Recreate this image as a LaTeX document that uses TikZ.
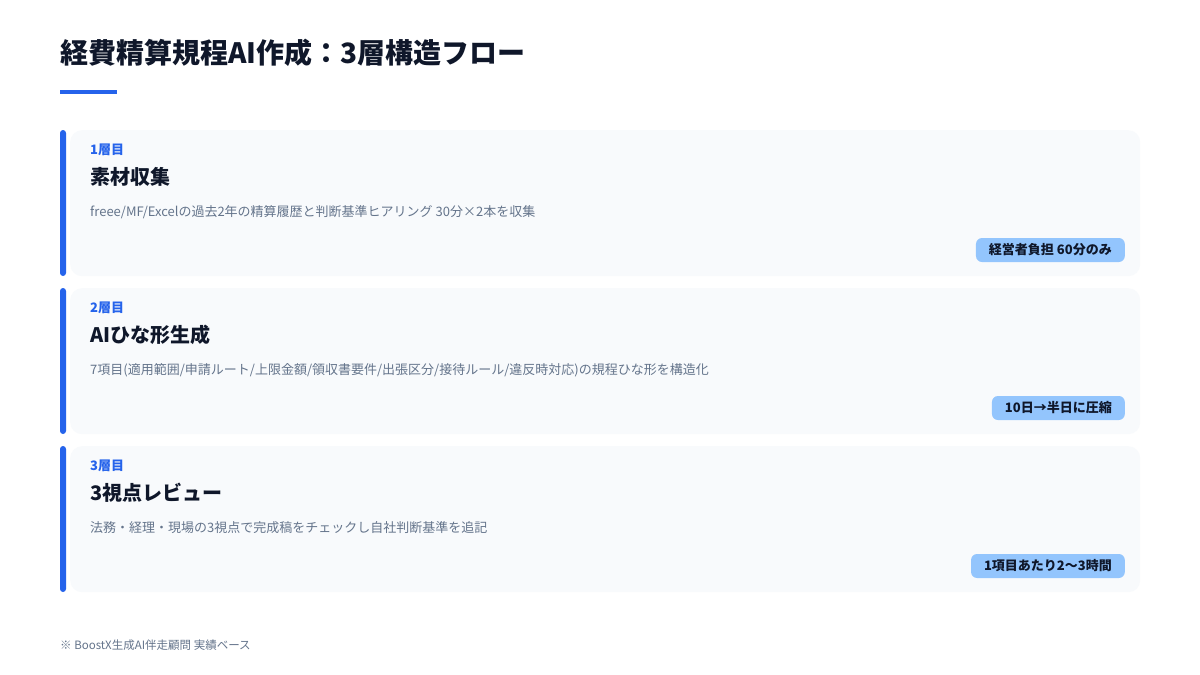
\documentclass[tikz,border=0pt]{standalone}
\usepackage{fontspec}
\setmainfont{Noto Sans CJK JP}
\usetikzlibrary{positioning}
\definecolor{ink}{HTML}{0F172A}
\definecolor{muted}{HTML}{64748B}
\definecolor{accent}{HTML}{2563EB}
\definecolor{cardbg}{HTML}{F8FAFC}
\definecolor{badgebg}{HTML}{93C5FD}

\begin{document}
\begin{tikzpicture}[x=1pt,y=-1pt,
  card/.style={fill=cardbg, rounded corners=12pt, minimum width=1070pt, minimum height=146pt, anchor=north west, inner sep=0pt},
  bar/.style={fill=accent, rounded corners=3pt},
  layer/.style={anchor=west, inner sep=0pt, text=accent, font=\fontsize{13}{15}\selectfont\bfseries},
  head/.style={anchor=west, inner sep=0pt, text=ink, font=\fontsize{20}{24}\selectfont\bfseries},
  desc/.style={anchor=west, inner sep=0pt, text=muted, font=\fontsize{13}{15}\selectfont},
  badge/.style={anchor=east, fill=badgebg, rounded corners=6pt, text=ink, inner xsep=13pt, minimum height=24pt, font=\fontsize{13}{15}\selectfont\bfseries}]

\useasboundingbox[fill=white] (0,0) rectangle (1200,675);

\node[anchor=west, inner sep=0pt, text=ink, font=\fontsize{28}{32}\selectfont\bfseries] (title) at (60,53) {経費精算規程AI作成：3層構造フロー};
\fill[accent] (60,90) rectangle (117,94);

\node[card] (card1) at (70,130) {};
\fill[bar] (60,130) rectangle (66,276);
\node[layer] (layer1) at (90,150) {1層目};
\node[head] (head1) at (90,177) {素材収集};
\node[desc] (desc1) at (90,212) {freee/MF/Excelの過去2年の精算履歴と判断基準ヒアリング 30分×2本を収集};
\node[badge] (badge1) at (1125,250) {経営者負担 60分のみ};

\node[card] (card2) at (70,288) {};
\fill[bar] (60,288) rectangle (66,434);
\node[layer] (layer2) at (90,308) {2層目};
\node[head] (head2) at (90,335) {AIひな形生成};
\node[desc] (desc2) at (90,370) {7項目(適用範囲/申請ルート/上限金額/領収書要件/出張区分/接待ルール/違反時対応)の規程ひな形を構造化};
\node[badge] (badge2) at (1125,408) {10日→半日に圧縮};

\node[card] (card3) at (70,446) {};
\fill[bar] (60,446) rectangle (66,592);
\node[layer] (layer3) at (90,466) {3層目};
\node[head] (head3) at (90,493) {3視点レビュー};
\node[desc] (desc3) at (90,528) {法務・経理・現場の3視点で完成稿をチェックし自社判断基準を追記};
\node[badge] (badge3) at (1125,566) {1項目あたり2〜3時間};

\node[anchor=west, inner sep=0pt, text=muted, font=\fontsize{11.5}{13}\selectfont] (note) at (60,645) {※ BoostX生成AI伴走顧問 実績ベース};

\end{tikzpicture}
\end{document}
